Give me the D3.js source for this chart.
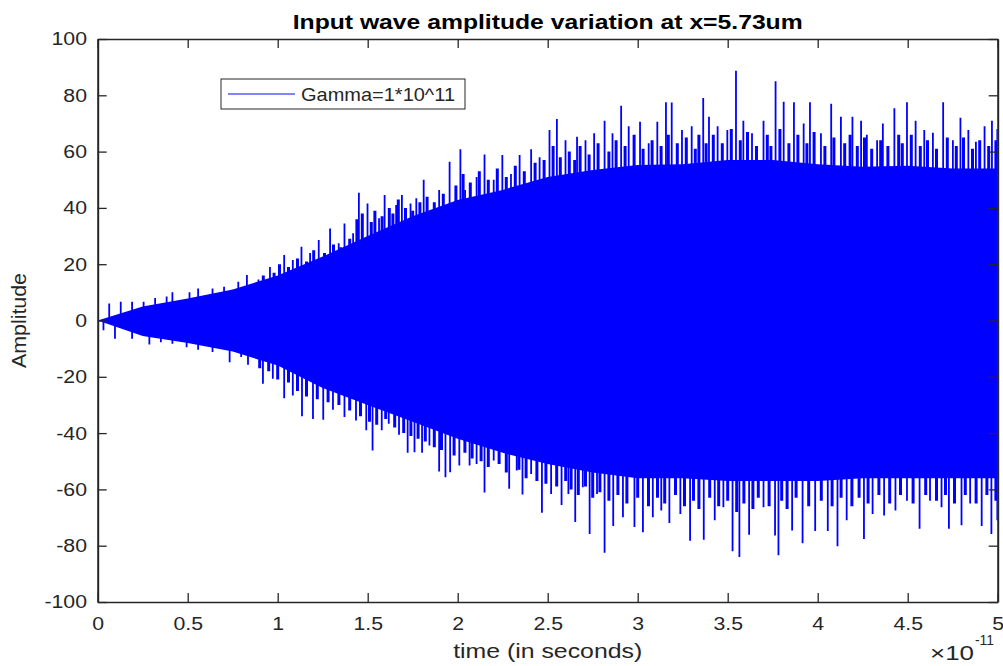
<html>
<head>
<meta charset="utf-8">
<title>Input wave amplitude variation</title>
<script src="https://d3js.org/d3.v7.min.js"></script>
<style>
body{margin:0;background:#fff;}
svg text{font-family:"Liberation Sans",Arial,Helvetica,sans-serif;fill:#262626;}
</style>
</head>
<body>
<svg width="1003" height="666"></svg>
<script>
// axis ticks (time in units of 1e-11 s)
var xTicks = [0,0.5,1,1.5,2,2.5,3,3.5,4,4.5,5];
var yTicks = [-100,-80,-60,-40,-20,0,20,40,60,80,100];

// upper spike tips
var upT = [0.064,0.128,0.191,0.255,0.319,0.383,0.415,0.510,0.558,0.638,0.702,0.781,0.829,0.893,0.957,
  1.036,1.084,1.132,1.180,1.228,1.291,1.339,1.371,1.419,1.451,1.499,1.563,1.594,1.658,1.690,1.738,1.770,
  1.811,1.849,1.897,1.955,1.977,2.015,2.041,2.105,2.149,2.200,2.248,2.296,2.344,2.408,2.455,2.510,2.551,
  2.599,2.663,2.710,2.758,2.816,2.860,2.908,2.950,3.013,3.061,3.109,3.157,3.189,3.246,3.300,3.364,3.396,
  3.444,3.498,3.546,3.587,3.635,3.699,3.766,3.811,3.868,3.922,3.957,4.018,4.075,4.129,4.193,4.241,4.273,
  4.330,4.362,4.426,4.496,4.544,4.592,4.640,4.697,4.751,4.793,4.837,4.879,4.927,4.968,4.998];
var upV = [6,6.7,6.7,6.7,8,8.5,10,10,11.4,11.4,12,13.8,16.2,14.6,19,
  23.3,21.5,26.2,24,28.6,32.7,27.4,34.5,31,45.4,41.6,36.3,44.6,41,44.6,41.6,43.4,
  50,37.5,46.4,56.4,41.6,60.8,46.4,51,59,50,58.8,52,58.8,60.8,58,67.7,71.6,
  64,65.3,64,66.5,71,66.5,76.3,69,70.6,63,70.6,77.5,77.4,67.7,69,79,72.4,
  69,67.7,88.7,71,66.5,71,85,77.7,77.5,70,77.5,66.5,77,72.4,72.4,71,66,
  64,70,75.4,77.5,71,67.7,66.7,77.5,64,72,67.7,63.5,69,71,68];

// lower spike tips
var loT = [0.032,0.096,0.191,0.287,0.351,0.415,0.494,0.558,0.638,0.733,0.797,0.835,0.918,0.973,
  1.036,1.084,1.135,1.196,1.253,1.307,1.371,1.435,1.492,1.527,1.578,1.617,1.674,1.722,1.760,1.802,1.843,
  1.897,1.932,1.958,2.009,2.066,2.105,2.149,2.200,2.286,2.328,2.360,2.408,2.468,2.519,2.577,2.615,2.653,
  2.695,2.733,2.774,2.816,2.864,2.918,2.982,3.029,3.084,3.131,3.176,3.237,3.291,3.367,3.428,3.476,3.527,
  3.565,3.619,3.699,3.763,3.782,3.858,3.916,3.986,4.056,4.110,4.161,4.257,4.305,4.369,4.432,4.496,4.566,
  4.624,4.688,4.729,4.799,4.847,4.911,4.965,4.998];
var loV = [-3.5,-6.5,-6.5,-8.5,-7.7,-8.3,-9.5,-10.4,-11.2,-14.8,-13,-15.7,-22.5,-20.7,
  -27.6,-26.6,-34,-35,-35.3,-31.7,-34.3,-35.5,-39,-46.2,-39,-36.7,-40.6,-47,-46.8,-47,-44.4,
  -53.6,-55.7,-53.9,-51.5,-51.5,-51,-61.1,-49.7,-59.8,-53.3,-61.8,-54.5,-68.3,-61.6,-65.5,-61.6,-71.6,
  -59.2,-75.8,-61.6,-82.5,-73,-69.9,-73.4,-75.2,-69.9,-67.5,-71.9,-68.7,-78.2,-77.9,-71,-66.3,-82,
  -84,-76.1,-66.3,-76.4,-83.4,-74.6,-79.1,-74.8,-74.8,-80.2,-71,-77.6,-68.7,-69.3,-67.5,-64,-74,
  -64,-66.3,-74,-72.7,-65,-73,-75.8,-71];

// second tier of shorter spikes between the tips
var midUpT = [0.92,0.98,1.01,1.06,1.11,1.16,1.20,1.26,1.31,1.35,1.40,1.44,1.47,1.52,1.54,1.58,1.62,1.64,1.67,1.71,
  1.75,1.79,1.83,1.87,1.92,1.99,2.03,2.07,2.12,2.17,2.22,2.27,2.32,2.37,2.43,2.48,2.53,2.57,2.62,2.65,
  2.68,2.73,2.78,2.84,2.88,2.93,2.98,3.03,3.08,3.13,3.17,3.22,3.27,3.32,3.34,3.38,3.42,3.47,3.52,3.57,
  3.61,3.66,3.72,3.74,3.79,3.84,3.89,3.94,3.98,4.04,4.09,4.15,4.18,4.22,4.26,4.30,4.35,4.39,4.45,4.47,
  4.52,4.57,4.61,4.66,4.72,4.77,4.81,4.86,4.90,4.95,4.99];
var midUpV = [16,17,20,19,22,21,25,24,27,26,29,36,38,35,39,37,40,38,43,40,
  39,42,44,42,45,48,52,49,53,50,54,51,55,53,56,57,62,58,60,57,
  62,59,63,60,64,62,66,61,64,62,66,63,65,61,66,63,66,63,68,64,
  67,62,66,62,68,63,66,63,67,62,65,63,66,62,65,61,64,62,66,63,
  66,62,64,61,65,62,65,61,64,62,64];
var midLoT = [0.90,0.95,1.00,1.06,1.11,1.16,1.22,1.28,1.34,1.40,1.46,1.51,1.55,1.60,1.65,1.70,1.74,1.78,1.82,1.87,
  1.91,1.98,2.04,2.08,2.13,2.17,2.23,2.27,2.34,2.38,2.44,2.49,2.55,2.60,2.63,2.67,2.71,2.75,2.79,2.84,
  2.89,2.94,3.00,3.06,3.11,3.15,3.21,3.26,3.31,3.34,3.40,3.45,3.50,3.55,3.59,3.64,3.67,3.73,3.80,3.83,
  3.88,3.95,4.02,4.08,4.13,4.19,4.23,4.28,4.34,4.40,4.46,4.53,4.60,4.66,4.71,4.76,4.82,4.88,4.94,4.99];
var midLoV = [-17,-18,-21,-22,-25,-27,-28,-29,-30,-32,-34,-36,-37,-35,-38,-40,-41,-42,-43,-45,
  -46,-48,-47,-49,-50,-52,-51,-54,-53,-56,-57,-58,-59,-57,-60,-62,-59,-63,-61,-64,
  -62,-65,-63,-66,-63,-65,-62,-66,-64,-67,-63,-66,-64,-68,-65,-67,-63,-66,-64,-67,
  -63,-66,-64,-66,-63,-66,-63,-65,-62,-65,-62,-65,-62,-64,-62,-65,-62,-65,-62,-64];

// solid body of the oscillation
var coreT = [0,0.25,0.5,0.75,1,1.25,1.5,1.75,2,2.25,2.5,2.75,3,3.25,3.5,3.75,4,4.25,4.5,4.75,5];
var coreUp = [0,5,7.8,11,16,22.7,30,37,42.8,46.4,51,53.5,55.2,55.5,57,57,55.5,54.6,55,54,54];
var coreLo = [0,-5.5,-8,-11,-16,-24,-30,-36,-42,-47,-51,-54,-56,-56,-57,-57,-57,-56,-56,-56,-56];

var svg = d3.select("svg"),
    margin = {top: 39, right: 5.3, bottom: 64, left: 97.7},
    width = +svg.attr("width") - margin.left - margin.right,
    height = +svg.attr("height") - margin.top - margin.bottom,
    g = svg.append("g").attr("transform", `translate(${margin.left},${margin.top})`);

var xScale = d3.scaleLinear().domain([0,5]).range([0,width]);
var yScale = d3.scaleLinear().domain([-100,100]).range([height,0]);

var blue = "#0000ff", ink = "#262626";

g.append("clipPath").attr("id","plot")
  .append("rect").attr("width",width).attr("height",height);

var sig = g.append("g").attr("clip-path","url(#plot)");

var core = d3.area()
  .x((d,i)=>xScale(coreT[i]))
  .y0((d,i)=>yScale(coreLo[i]))
  .y1((d,i)=>yScale(coreUp[i]));
sig.append("path")
  .attr("d", core(coreT))
  .attr("fill", blue);

function spikePath(ts, vs){
  return ts.map((t,i)=>`M${xScale(t)},${yScale(0)}V${yScale(vs[i])}`).join("");
}
sig.append("path")
  .attr("d", spikePath(midUpT, midUpV) + spikePath(midLoT, midLoV))
  .attr("fill","none")
  .attr("stroke", blue)
  .attr("stroke-width", 3);
sig.append("path")
  .attr("d", spikePath(upT, upV) + spikePath(loT, loV))
  .attr("fill","none")
  .attr("stroke", blue)
  .attr("stroke-width", 1.8);

// axes, MATLAB style box with inward ticks
function styleAxis(sel, w){
  sel.select(".domain").attr("stroke", ink).attr("stroke-width", w);
  sel.selectAll(".tick line").attr("stroke", ink).attr("stroke-width", 1.3);
  sel.selectAll(".tick text").attr("fill", ink).style("font-size","18.5px")
     .attr("transform","scale(1.15,1)");
}

g.append("g")
  .attr("transform", `translate(0,${height})`)
  .call(d3.axisBottom(xScale).tickValues(xTicks).tickFormat(d=>String(d)).tickSizeInner(-9).tickSizeOuter(0).tickPadding(15))
  .call(s=>styleAxis(s,1.5));
g.append("g")
  .call(d3.axisTop(xScale).tickValues(xTicks).tickFormat("").tickSizeInner(-9).tickSizeOuter(0))
  .call(s=>styleAxis(s,1.5));
g.append("g")
  .call(d3.axisLeft(yScale).tickValues(yTicks).tickFormat(d=>String(d)).tickSizeInner(-9).tickSizeOuter(0).tickPadding(9.3))
  .call(s=>styleAxis(s,2));
g.append("g")
  .attr("transform", `translate(${width},0)`)
  .call(d3.axisRight(yScale).tickValues(yTicks).tickFormat("").tickSizeInner(-9).tickSizeOuter(0))
  .call(s=>styleAxis(s,2));

// title and labels
svg.append("text")
  .attr("x", margin.left + width/2).attr("y", 29)
  .attr("text-anchor","middle")
  .attr("textLength",510).attr("lengthAdjust","spacingAndGlyphs")
  .style("font-size","20px").style("font-weight","bold").style("fill","#000")
  .text("Input wave amplitude variation at x=5.73um");

svg.append("text")
  .attr("x", margin.left + width/2).attr("y", 658)
  .attr("text-anchor","middle")
  .attr("textLength",189).attr("lengthAdjust","spacingAndGlyphs")
  .style("font-size","19.5px")
  .text("time (in seconds)");

svg.append("text")
  .attr("transform", `translate(26,${margin.top + height/2}) rotate(-90)`)
  .attr("text-anchor","middle")
  .attr("textLength",95).attr("lengthAdjust","spacingAndGlyphs")
  .style("font-size","19.5px")
  .text("Amplitude");

svg.append("text").attr("x", 930).attr("y", 660)
  .attr("textLength",44).attr("lengthAdjust","spacingAndGlyphs")
  .style("font-size","20px").text("\u00d710");
svg.append("text").attr("x", 975).attr("y", 645)
  .attr("textLength",19).attr("lengthAdjust","spacingAndGlyphs")
  .style("font-size","14px").text("-11");

// legend
var leg = svg.append("g").attr("transform","translate(221,79)");
leg.append("rect").attr("width",244).attr("height",30)
  .attr("fill","#fff").attr("stroke",ink).attr("stroke-width",1);
leg.append("line").attr("x1",7).attr("x2",74).attr("y1",15).attr("y2",15)
  .attr("stroke",blue).attr("stroke-opacity",0.65).attr("stroke-width",1.5);
leg.append("text").attr("x",80).attr("y",22)
  .attr("textLength",154).attr("lengthAdjust","spacingAndGlyphs")
  .style("font-size","18.5px").text("Gamma=1*10^11");
</script>
</body>
</html>
